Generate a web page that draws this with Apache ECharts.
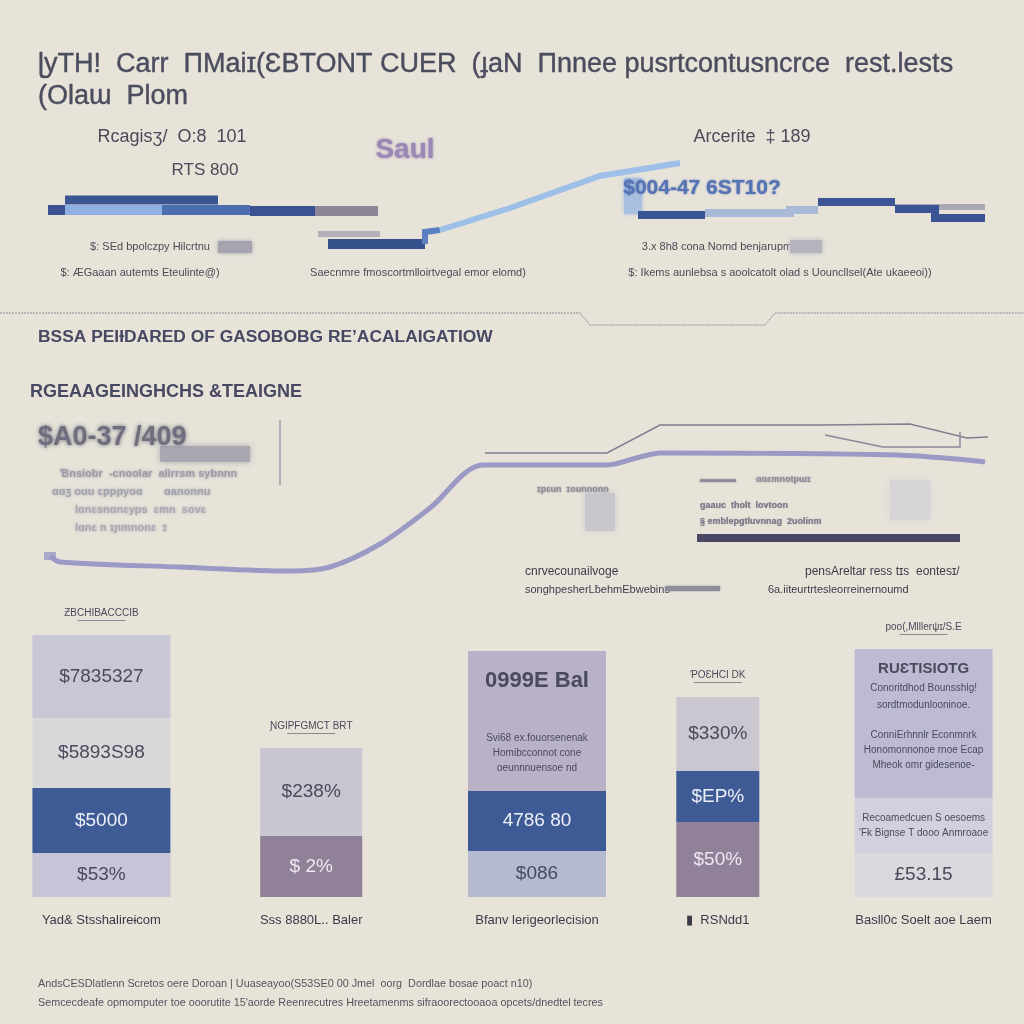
<!DOCTYPE html>
<html>
<head>
<meta charset="utf-8">
<script src="https://cdn.jsdelivr.net/npm/echarts@6/dist/echarts.min.js"></script>
<style>
html,body{margin:0;padding:0;background:#e7e3d9;}
#main{width:1024px;height:1024px;}
</style>
</head>
<body>
<div id="main"></div>
<script>
// ---------------- DATA ----------------
// Top section bands (x position, level)
const bandUpper = [[65,60],[218,60]];
const bandRowDarkL = [[48,50],[65,50]];
const bandRowLight = [[65,50],[162,50]];
const bandRowMid = [[162,50],[250,50]];
const bandRowDark = [[250,49],[315,49]];
const bandRowGray = [[315,49],[378,49]];
const bandLowGray = [[318,26],[380,26]];
const bandLowDark = [[328,16],[425,16]];
const bandStep = [[425,16],[425,28],[440,30]];
const riseLine = [[440,30],[510,52],[600,84],[680,97]];
const bandRightA = [[638,45],[705,45]];
const bandRightB = [[705,47],[790,47],[790,50],[818,50]];
const bandRightC = [[818,58],[895,58]];
const bandRightGray = [[895,53],[985,53]];
const bandRightD = [[895,51],[935,51],[935,42],[985,42]];

// Middle section lines
const purpleLine = [[50,44],[60,38],[180,33],[290,29],[330,33],[380,56],[430,92],[483,135],[607,135],[640,143],[660,147],[897,145],[967,140],[985,138]];
const grayLine = [[485,147],[607,147],[660,175],[823,175],[910,176],[967,162],[988,163]];
const grayBracket = [[825,165],[883,153],[960,153],[960,168]];
const darkBar = [[697,62],[960,62]];

// Bottom stacked bars
const categories = ['Yad& Stsshalireɨcom','Sss 8880L.. Baler','Bfanv lerigeorlecision','▮  RSNdd1','Basll0c Soelt aoe Laem'];
const headers = ['ƵBCHIBACCCIB','ƝGIPFGMCT BRT','','ƤOƐHCI DK','poo(,Mlllerψɪ/S.E'];
const segValues = [[44,65,70,83],[61,88],[46,60,140],[75,51,74],[44,55,149]];
const segLabels = [
  ['$53%','$5000','$5893S98','$7835327'],
  ['$ 2%','$238%'],
  ['$086','4786 80','{t|0999E Bal}\n{g|}\n{s|Svi68 ex.fouorsenenak}\n{s|Homibcconnot cone}\n{s|oeunnnuensoe nd}'],
  ['$50%','$EP%','$330%'],
  ['£53.15','{s|Recoamedcuen S oesoems}\n{s|\'Fk Bignse T dooo Anmroaoe}','{t|RUƐTISIOTG}\n{m|Conoritdhod Bounsshlg!}\n{m|sordtmodunlooninoe.}\n{g2|}\n{s|ConniErhnnlr Econmnrk}\n{s|Honomonnonoe rnoe Ecap}\n{s|Mheok omr gidesenoe-}\n{g3|}']
];

// ---------------- STYLE ----------------
const segColors = [
  ['#c6c4d6','#3e5b96','#dad7da','#c9c6d5'],
  ['#908199','#c9c5d1'],
  ['#b3bad2','#3e5b96','#b8b1c7'],
  ['#908199','#3e5b96','#cbc7d1'],
  ['#dcd9de','#d2d0dd','#bdbbd3']
];
const segTextColors = [
  ['#4a4a5c','#eef0f8','#4a4a5c','#4a4a5c'],
  ['#efe8f2','#4a4a5c'],
  ['#4a4a5c','#eef0f8','#4a4a5c'],
  ['#efe8f2','#eef0f8','#4a4a5c'],
  ['#4a4a5c','#4a4a5c','#4a4a5c']
];
const barWidths = [138,102,138,83,138];
const barShift = [-1,4,25,1,2];
const FONT = '"Liberation Sans", Arial, sans-serif';

const barData = [];
segValues.forEach((segs, ci) => {
  let base = 0;
  segs.forEach((v, si) => {
    barData.push([ci, base, base + v, si]);
    base += v;
  });
});

const chart = echarts.init(document.getElementById('main'), null, {renderer:'canvas'});

function lineSeries(data, color, width, gridIdx, extra) {
  return Object.assign({
    type:'line', data:data, xAxisIndex:gridIdx, yAxisIndex:gridIdx,
    symbol:'none', silent:true, animation:false,
    lineStyle:{color:color, width:width, cap:'butt', join:'miter'}
  }, extra || {});
}

function txt(x, y, text, size, color, opts) {
  opts = opts || {};
  return {
    type:'text', x:x, y:y, silent:true,
    style:Object.assign({
      text:text, fill:color, font:(opts.weight||'normal') + ' ' + size + 'px ' + (opts.family||FONT),
      align:opts.align||'left', verticalAlign:'middle'
    }, opts.style||{})
  };
}

const blurTxt = (x,y,t,size,color,blur,align) => txt(x,y,t,size,color,{weight:'bold',align:align||'left',style:{textShadowColor:color,textShadowBlur:blur||4}});

const graphics = [
  txt(38, 65, 'ɭyTH!  Carr  ΠMaiɪ(ƐBTONT CUER  (ɟaN  Πnnee pusrtcontusncrce  rest.lests', 27, '#4b4c5e', {style:{stroke:'#4b4c5e', lineWidth:0.4}}),
  txt(38, 97, '(Olaɯ  Plom', 27, '#4b4c5e', {style:{stroke:'#4b4c5e', lineWidth:0.4}}),
  txt(172, 137, 'Rcagisʒ/  O:8  101', 18, '#4a4a58', {align:'center'}),
  txt(205, 170, 'RTS 800', 17, '#4a4a58', {align:'center'}),
  blurTxt(405, 150, 'Saul', 28, '#9a88b4', 3, 'center'),
  txt(752, 137, 'Arcerite  ‡ 189', 18, '#4a4a58', {align:'center'}),
  {type:'rect', silent:true, shape:{x:624,y:178,width:18,height:36}, style:{fill:'#a9bfe0', shadowBlur:4, shadowColor:'#a9bfe0'}},
  blurTxt(702, 188, '$004-47 6ST10?', 21, '#5673b4', 2, 'center'),
  txt(150, 247, '$: SEd bpolczpy Hilcrtnu', 11, '#4a4a55', {align:'center'}),
  {type:'rect', silent:true, shape:{x:218,y:241,width:34,height:12}, style:{fill:'#a6a4b0', shadowBlur:4, shadowColor:'#a6a4b0'}},
  txt(140, 273, '$: ÆGaaan autemts Eteulinte@)', 11, '#4a4a55', {align:'center'}),
  txt(418, 273, 'Saecnmre fmoscortmlloirtvegal emor elomd)', 11, '#4a4a55', {align:'center'}),
  txt(717, 247, '3.x 8h8 cona Nomd benjarupm', 11, '#4a4a55', {align:'center'}),
  {type:'rect', silent:true, shape:{x:790,y:240,width:32,height:13}, style:{fill:'#b6b4bd', shadowBlur:5, shadowColor:'#b6b4bd'}},
  txt(780, 273, '$: Ikems aunlebsa s aoolcatolt olad s Uouncllsel(Ate ukaeeoi))', 11, '#4a4a55', {align:'center'}),
  {type:'polyline', silent:true, shape:{points:[[0,313],[580,313],[590,325],[765,325],[775,313],[1024,313]]}, style:{stroke:'#8f8d9a', lineWidth:1, lineDash:[2,1], fill:null}},
  txt(38, 337, 'BSSA PEIƗDARED OF GASOBOBG RE\u2019ACALAIGATIOW', 17.4, '#474862', {weight:'bold'}),
  txt(30, 392, 'RGEAAGEINGHCHS &TEAIGNE', 18, '#474862', {weight:'bold'}),
  {type:'rect', silent:true, shape:{x:160,y:446,width:90,height:16}, style:{fill:'#a9a8b2', shadowBlur:6, shadowColor:'#a9a8b2'}},
  blurTxt(38, 438, '$A0-37 /409', 27, '#6e6e7e', 4),
  {type:'line', silent:true, shape:{x1:280,y1:420,x2:280,y2:485}, style:{stroke:'#b0aeb8', lineWidth:2}},
  blurTxt(60, 474, 'Ɓnsiobr  -cnoolar  alirrsm sybnnn', 11, '#9d9ca8', 3),
  blurTxt(52, 492, 'ɑɑʒ ouu ɛpppyoɑ       ɑanonnu', 11, '#a4a3ae', 3),
  blurTxt(75, 510, 'lɑnɛsnɑnɛyps  ɛmn  sovɛ', 11, '#aaa9b3', 3),
  blurTxt(75, 528, 'lɑnɛ n ɪɲmnonɛ  ɪ', 11, '#aaa9b3', 3),
  {type:'rect', silent:true, shape:{x:585,y:493,width:30,height:38}, style:{fill:'#c9c7cb', shadowBlur:6, shadowColor:'#c9c7cb'}},
  {type:'rect', silent:true, shape:{x:890,y:480,width:40,height:40}, style:{fill:'#d6d4d6', shadowBlur:8, shadowColor:'#d6d4d6'}},
  blurTxt(537, 490, 'ɪpɛun  ɪounnonn', 9, '#8d8c98', 2),
  blurTxt(700, 480, '▬▬▬▬        ɑɑɛmnotpɯɪ', 9, '#8d8c98', 2),
  blurTxt(700, 506, 'gaauc  tholt  lovtoon', 9, '#7f7e8c', 1),
  blurTxt(700, 522, '§ emblepgtluvnnag  2uolinm', 9, '#7f7e8c', 1),
  txt(525, 572, 'cnrvecounailvoge', 12, '#3c3c4a'),
  txt(525, 590, 'songhpesherLƀehmEbwebins', 11, '#3c3c4a'),
  {type:'rect', silent:true, shape:{x:665,y:586,width:55,height:5}, style:{fill:'#8e8d99', shadowBlur:2, shadowColor:'#8e8d99'}},
  txt(805, 572, 'pensAreltar ress tɪs  eontesɪ/', 12, '#3c3c4a'),
  txt(768, 590, '6a.iiteurtrtesleorreinernoumd', 11, '#3c3c4a'),
  txt(38, 984, 'AndsCESDlatlenn Scretos oere Doroan | Uuaseayoo(S53SE0 00 Jmel  oorg  Dordlae bosae poact n10)', 10.8, '#55545e'),
  txt(38, 1003, 'Semcecdeafe opmomputer toe ooorutite 15\'aorde Reenrecutres Hreetamenms sifraoorectooaoa opcets/dnedtel tecres', 10.8, '#55545e')
];

function renderBar(params, api) {
  const ci = api.value(0), y0 = api.value(1), y1 = api.value(2), si = api.value(3);
  const p0 = api.coord([ci, y0]);
  const p1 = api.coord([ci, y1]);
  const w = barWidths[ci];
  const cx = p0[0] + barShift[ci];
  const h = p0[1] - p1[1];
  const children = [{
    type:'rect', shape:{x:cx - w/2, y:p1[1], width:w, height:h},
    style:{fill:segColors[ci][si]}
  }, {
    type:'text', x:cx, y:p1[1] + h/2,
    style:{
      text:segLabels[ci][si], fill:segTextColors[ci][si], align:'center', verticalAlign:'middle',
      font:'normal 19px ' + FONT,
      rich:{
        t:{fontSize:ci===2?22:15, fontWeight:'bold', lineHeight:ci===2?30:22, fill:'#4a4a5c', fontFamily:FONT},
        g:{lineHeight:35, fontSize:4},
        g2:{lineHeight:14, fontSize:4},
        g3:{lineHeight:16, fontSize:4},
        m:{fontSize:10, lineHeight:17, fill:'#4a4a5c', fontFamily:FONT},
        s:{fontSize:10, lineHeight:15, fill:'#4a4a5c', fontFamily:FONT}
      }
    }
  }];
  const nSeg = segValues[ci].length;
  if (si === nSeg - 1 && headers[ci]) {
    children.push({type:'text', x:cx, y:p1[1] - 22,
      style:{text:headers[ci], fill:'#4a4a5c', align:'center', verticalAlign:'middle', font:'normal 10px ' + FONT}});
    children.push({type:'rect', shape:{x:cx-24, y:p1[1]-15, width:48, height:1}, style:{fill:'#8a8996'}});
  }
  if (si === 0) {
    children.push({type:'text', x:cx, y:p0[1] + 23,
      style:{text:categories[ci], fill:'#3a3a48', align:'center', verticalAlign:'middle', font:'normal 13px ' + FONT}});
  }
  return {type:'group', children:children};
}

const hiddenVal = (min, max, gi) => ({type:'value', gridIndex:gi, min:min, max:max, show:false, splitLine:{show:false}});

const option = {
  backgroundColor:'#e7e3d9',
  animation:false,
  grid:[
    {left:0, right:0, top:150, height:110},
    {left:0, right:0, top:400, height:200},
    {left:0, right:0, top:600, height:297}
  ],
  xAxis:[
    hiddenVal(0, 1024, 0),
    hiddenVal(0, 1024, 1),
    {type:'category', gridIndex:2, data:categories, show:false}
  ],
  yAxis:[
    hiddenVal(0, 110, 0),
    hiddenVal(0, 200, 1),
    hiddenVal(0, 297, 2)
  ],
  graphic:graphics,
  series:[
    lineSeries(bandUpper, '#3b5593', 9, 0),
    lineSeries(bandRowDarkL, '#3a5290', 10, 0),
    lineSeries(bandRowLight, '#8fb0e0', 10, 0),
    lineSeries(bandRowMid, '#4b6fae', 10, 0),
    lineSeries(bandRowDark, '#3a5290', 10, 0),
    lineSeries(bandRowGray, '#8c8698', 10, 0),
    lineSeries(bandLowGray, '#b3b0bb', 6, 0),
    lineSeries(bandLowDark, '#36508c', 10, 0),
    lineSeries(bandStep, '#5a80c0', 6, 0),
    lineSeries(riseLine, '#9ec0e8', 6, 0),
    lineSeries(bandRightA, '#3a5595', 8, 0),
    lineSeries(bandRightB, '#a9b9d8', 8, 0),
    lineSeries(bandRightC, '#3d5596', 8, 0),
    lineSeries(bandRightGray, '#a9a8b4', 6, 0),
    lineSeries(bandRightD, '#3b5494', 8, 0),
    lineSeries(purpleLine, '#9a9ac4', 5, 1, {smooth:0.3, showSymbol:true, symbol:'none'}),
    {type:'scatter', xAxisIndex:1, yAxisIndex:1, data:[purpleLine[0]], symbol:'rect', symbolSize:[12,8], itemStyle:{color:'#9a9ac4'}, silent:true},
    lineSeries(grayLine, '#807e90', 1.5, 1),
    lineSeries(grayBracket, '#8a8898', 1.5, 1),
    lineSeries(darkBar, '#4a4766', 8, 1),
    {type:'custom', xAxisIndex:2, yAxisIndex:2, data:barData, renderItem:renderBar, silent:true}
  ]
};
chart.setOption(option);
</script>
</body>
</html>
